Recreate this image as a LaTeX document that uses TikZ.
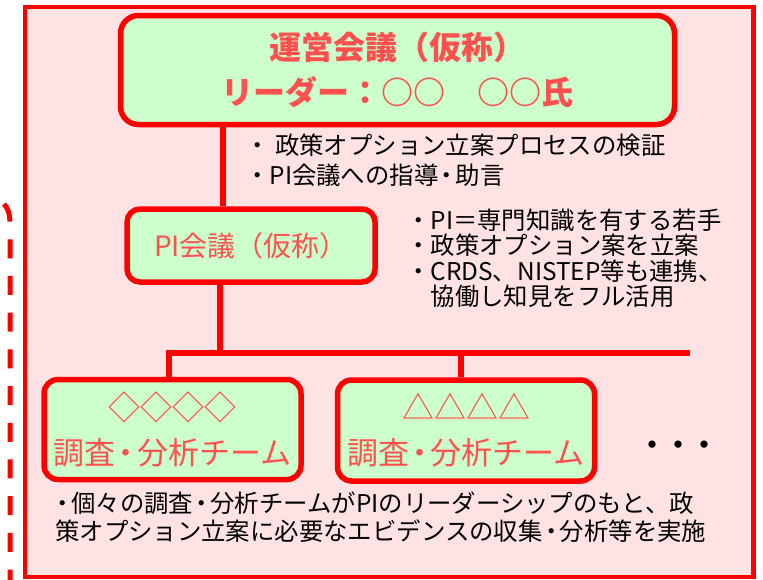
\documentclass[tikz,border=0pt]{standalone}
\usepackage{fontspec}
\setmainfont{Noto Sans CJK JP}
\newcommand\ndot{\kern0.1em{\addfontfeatures{RawFeature=+palt}・}\kern0.1em}
\definecolor{pinkbg}{RGB}{255,226,228}
\definecolor{boxgreen}{RGB}{204,255,204}
\definecolor{salmon}{RGB}{255,80,80}
\definecolor{borderred}{RGB}{255,0,0}
\begin{document}
\begin{tikzpicture}[x=1pt,y=-1pt,
  boxstyle/.style={draw=borderred, fill=boxgreen, line width=5.5pt, text=salmon, align=center, inner sep=0pt},
  conn/.style={draw=borderred, line width=6pt},
  note/.style={anchor=west, inner sep=0pt, font=\fontsize{24.4}{30}\selectfont, text=black}]
\useasboundingbox (0,0) rectangle (763,579);
% outer frame
\draw[draw=borderred, fill=pinkbg, line width=4.7pt] (25,7) rectangle (753.5,577);
% dashed bracket on the left
\draw[borderred, line width=5pt, dash pattern=on 19pt off 17.7pt] (4,204) .. controls (8,208) and (10,214) .. (10,224) -- (10,585);
% boxes
\node[boxstyle, minimum width=554pt, minimum height=109pt, rounded corners=18pt,
      font=\fontsize{32}{45}\selectfont\bfseries] (mgmt) at (397.5,70)
      {運営会議（仮称）\\リーダー：○○　○○氏};
\node[boxstyle, minimum width=248pt, minimum height=73pt, rounded corners=13pt,
      font=\fontsize{28}{34}\selectfont] (pi) at (251,245.5) {PI会議（仮称）};
\node[boxstyle, minimum width=257pt, minimum height=100pt, rounded corners=14pt,
      font=\fontsize{31}{45}\selectfont] (team1) at (172.5,429.5)
      {{\fontsize{32}{45}\selectfont ◇◇◇◇}\\調査\ndot 分析チーム};
\node[boxstyle, minimum width=257pt, minimum height=101pt, rounded corners=14pt,
      font=\fontsize{31}{45}\selectfont] (team2) at (466,430.5)
      {{\fontsize{32}{45}\selectfont △△△△}\\調査\ndot 分析チーム};
% connectors
\coordinate (v1) at (223,0);
\coordinate (busL) at (169,353);
\coordinate (busM) at (220,353);
\coordinate (busR) at (690,353);
\coordinate (v2) at (461,353);
\draw[conn] (v1 |- mgmt.south) -- (v1 |- pi.north);
\draw[conn] (busM |- pi.south) -- (busM);
\draw[conn] (busL |- team1.north) -- (busL) -- (busR);
\draw[conn] (v2) -- (v2 |- team2.north);
% notes
\node[note] (n1a) at (245,145) {・ 政策オプション立案プロセスの検証};
\node[note] (n1b) at (245,175) {・PI会議への指導\ndot 助言};
\node[note] (n2a) at (406,220) {・PI＝専門知識を有する若手};
\node[note] (n2b) at (406,245.5) {・政策オプション案を立案};
\node[note] (n2c) at (406,271) {・CRDS、NISTEP等も連携、};
\node[note] (n2d) at (406,296.5) {　協働し知見をフル活用};
\node[note] (n3a) at (54,503) {\ndot 個々の調査\ndot 分析チームがPIのリーダーシップのもと、政};
\node[note] (n3b) at (55,531.5) {策オプション立案に必要なエビデンスの収集\ndot 分析等を実施};
\node[inner sep=0pt, font=\fontsize{26}{26}\selectfont\bfseries] (dots) at (678.5,447.5) {・・・};
\end{tikzpicture}
\end{document}
